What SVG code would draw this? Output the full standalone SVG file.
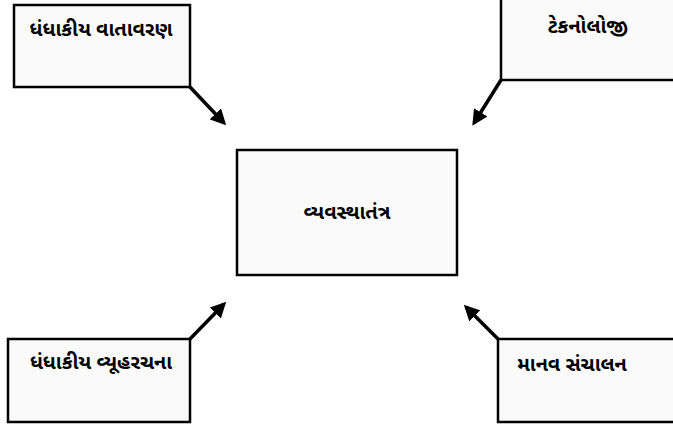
<svg xmlns="http://www.w3.org/2000/svg" width="673" height="430" viewBox="0 0 673 430">
<style>
.box{fill:#fafafa;stroke:#000;stroke-width:2.5}
.t{font-family:"Noto Sans Gujarati","Noto Sans","DejaVu Sans",sans-serif;font-size:20px;font-weight:bold;fill:#000}
.c{stroke:#000;stroke-width:3.5;fill:none;marker-end:url(#ah)}
</style>
<defs>
<marker id="ah" viewBox="0 0 10 10" refX="8" refY="5" markerWidth="4.5" markerHeight="4.5" orient="auto" markerUnits="strokeWidth">
<path d="M0,0 L10,5 L0,10 z" fill="#000"/>
</marker>
</defs>
<rect width="673" height="430" fill="#fff"/>
<g id="connectors">
<line class="c" x1="190" y1="87" x2="224" y2="123"/>
<line class="c" x1="501" y1="80" x2="474" y2="123"/>
<line class="c" x1="190" y1="339" x2="224" y2="304"/>
<line class="c" x1="498" y1="339" x2="466" y2="307"/>
</g>
<g id="n1">
<rect class="box" x="14" y="5" width="176" height="82"/>
<text class="t" x="101" y="36" text-anchor="middle">ધંધાકીય વાતાવરણ</text>
</g>
<g id="n2">
<rect class="box" x="501" y="-5" width="180" height="85"/>
<text class="t" x="588" y="33" text-anchor="middle">ટેકનોલોજી</text>
</g>
<g id="n3">
<rect class="box" x="237" y="150" width="220" height="125"/>
<text class="t" x="347" y="219" text-anchor="middle">વ્યવસ્થાતંત્ર</text>
</g>
<g id="n4">
<rect class="box" x="8" y="339" width="182" height="83"/>
<text class="t" x="101" y="369" text-anchor="middle">ધંધાકીય વ્યૂહરચના</text>
</g>
<g id="n5">
<rect class="box" x="498" y="339" width="185" height="83"/>
<text class="t" x="572" y="371" text-anchor="middle">માનવ સંચાલન</text>
</g>
</svg>
